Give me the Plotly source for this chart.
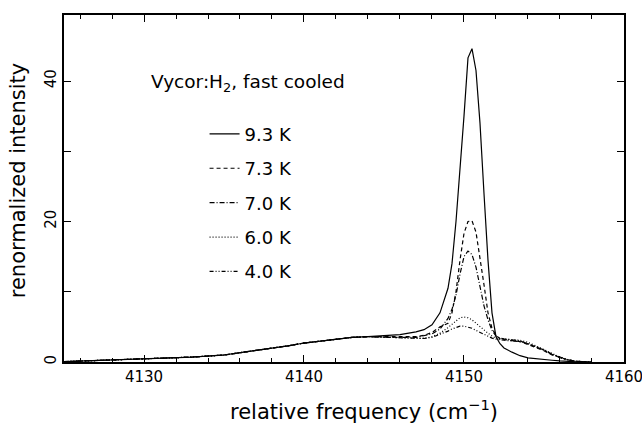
import plotly.graph_objects as go

freq = [4125, 4127, 4130, 4133, 4135, 4137, 4139, 4140, 4141, 4142, 4143, 4144,
        4145, 4146, 4147, 4147.5, 4148, 4148.5, 4149, 4149.25, 4149.5, 4149.75,
        4150, 4150.25, 4150.5, 4150.75, 4151, 4151.25, 4151.5, 4151.75, 4152,
        4152.25, 4152.5, 4153, 4153.5, 4154, 4154.5, 4155, 4155.5, 4156, 4156.5,
        4157, 4158]

common_low = [0.05, 0.2, 0.4, 0.7, 1.0, 1.6, 2.3, 2.7, 3.0, 3.3, 3.5, 3.6]

i_93 = common_low + [3.75, 3.9, 4.3, 4.6, 5.3, 7.0, 10.5, 14.0, 20.0, 27.0,
                     35.0, 43.3, 44.6, 41.5, 34.0, 24.0, 14.5, 7.0, 3.6,
                     2.6, 2.0, 1.4, 0.9, 0.6, 0.45, 0.35, 0.25, 0.15, 0.08,
                     0.03, 0.0]
i_73 = common_low + [3.6, 3.6, 3.6, 3.8, 4.2, 5.0, 5.5, 7.0, 10.0, 14.5,
                     18.3, 20.0, 20.1, 18.5, 15.0, 11.0, 7.0, 4.8, 3.8,
                     3.3, 3.2, 3.1, 2.9, 2.5, 2.1, 1.6, 1.0, 0.6, 0.3,
                     0.1, 0.0]
i_70 = common_low + [3.5, 3.5, 3.5, 3.7, 4.0, 4.7, 6.2, 7.5, 9.5, 12.5,
                     15.0, 15.8, 15.3, 13.5, 10.5, 8.0, 6.0, 4.5, 3.7,
                     3.4, 3.3, 3.2, 3.0, 2.6, 2.2, 1.7, 1.1, 0.65, 0.3,
                     0.1, 0.0]
i_60 = common_low + [3.5, 3.4, 3.3, 3.35, 3.6, 4.1, 4.9, 5.4, 5.9, 6.3,
                     6.4, 6.3, 6.0, 5.5, 5.0, 4.5, 4.1, 3.7, 3.4,
                     3.3, 3.3, 3.2, 3.1, 2.8, 2.3, 1.8, 1.2, 0.7, 0.35,
                     0.12, 0.0]
i_40 = common_low + [3.5, 3.4, 3.3, 3.35, 3.5, 3.9, 4.4, 4.7, 4.95, 5.1,
                     5.1, 5.0, 4.8, 4.5, 4.2, 3.9, 3.6, 3.4, 3.25,
                     3.15, 3.1, 3.0, 2.9, 2.6, 2.2, 1.7, 1.1, 0.6, 0.3,
                     0.1, 0.0]

labels = ["9.3 K", "7.3 K", "7.0 K", "6.0 K", "4.0 K"]
series = [i_93, i_73, i_70, i_60, i_40]
dashes = ["solid", "4px,3px", "5px,2px,1px,2px", "1px,2px", "4px,2px,1px,2px,1px,2px"]

x_ticks = [4130, 4140, 4150, 4160]
y_ticks = [0, 20, 40]

FONT = "DejaVu Sans"

fig = go.Figure()
for lab, ys, d in zip(labels, series, dashes):
    fig.add_trace(go.Scatter(
        x=freq, y=ys, mode="lines", name=lab, legendgroup=lab,
        line=dict(color="black", width=1.2, dash=d),
    ))

axis_common = dict(
    showgrid=False, zeroline=False, showline=True, linecolor="black",
    linewidth=1.5, mirror="allticks", ticks="inside", tickcolor="black",
    tickwidth=1.2, tickfont=dict(family=FONT, size=15, color="black"),
    automargin=False,
)

fig.update_layout(
    width=642, height=423,
    margin=dict(l=64, r=18, t=15, b=61),
    paper_bgcolor="white", plot_bgcolor="white",
    font=dict(family=FONT, color="black"),
    xaxis=dict(
        range=[4125, 4160.001], tickvals=x_ticks, ticklen=7,
        ticklabelstandoff=0, ticklabeloverflow="allow",
        minor=dict(dtick=2, tick0=4126, ticks="inside", ticklen=4,
                   tickcolor="black", tickwidth=1),
        **axis_common,
    ),
    yaxis=dict(
        range=[0, 49.4], tickvals=y_ticks, ticklen=7,
        minor=dict(dtick=10, ticks="inside", ticklen=7,
                   tickcolor="black", tickwidth=1),
        **axis_common,
    ),
    showlegend=True,
    legend=dict(
        x=0.251, y=0.71, xanchor="left", yanchor="top",
        bgcolor="rgba(0,0,0,0)", borderwidth=0,
        font=dict(family=FONT, size=18, color="black"),
        tracegroupgap=8, traceorder="grouped",
    ),
)
fig.update_yaxes(tickangle=-90)

fig.add_annotation(
    text="Vycor:H<sub>2</sub>, fast cooled", xref="paper", yref="paper",
    x=0.152, y=0.804, xanchor="left", yanchor="middle", showarrow=False,
    font=dict(family=FONT, size=18.5, color="black"),
)
# axis titles
fig.add_annotation(
    text="relative frequency (cm<sup>−1</sup>)", xref="paper", yref="paper",
    x=0.536, y=-0.138, xanchor="center", yanchor="middle", showarrow=False,
    font=dict(family=FONT, size=21, color="black"),
)
fig.add_annotation(
    text="renormalized intensity", xref="paper", yref="paper",
    x=-0.082, y=0.524, xanchor="center", yanchor="middle", showarrow=False,
    textangle=-90, font=dict(family=FONT, size=21, color="black"),
)

fig.write_html("out.html")
